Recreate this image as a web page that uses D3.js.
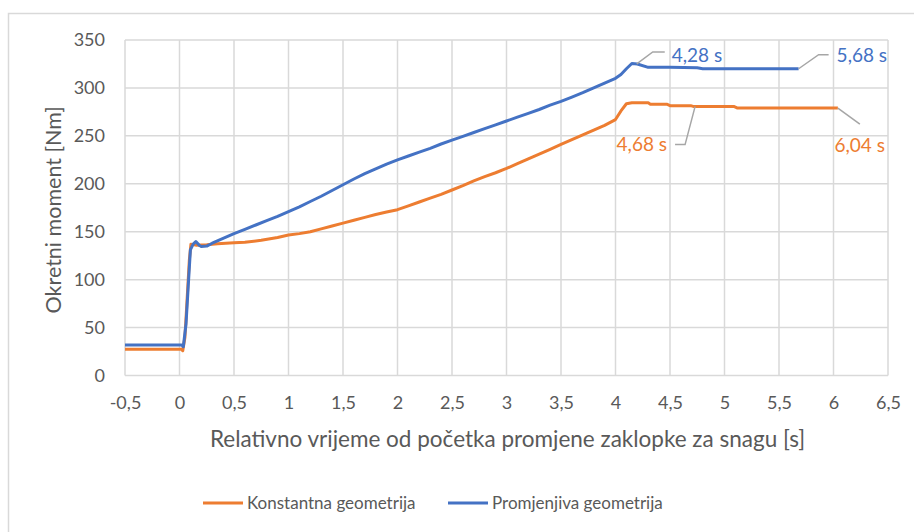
<!DOCTYPE html>
<html>
<head>
<meta charset="utf-8">
<script src="https://cdn.jsdelivr.net/npm/d3@7"></script>
<style>
  body { margin: 0; background: #fff; }
  text { font-family: Lato, "Open Sans", sans-serif; fill: #595959; }
</style>
</head>
<body>
<div class="chart"></div>
<script>
// Konstantna geometrija (orange)
const konstT = [-0.5, 0.02, 0.03, 0.05, 0.07, 0.09, 0.105, 0.15, 0.25, 0.35, 0.5, 0.6, 0.75, 0.9, 1.0, 1.1, 1.2, 1.3, 1.4, 1.5, 1.6, 1.7, 1.8, 1.9, 2.0, 2.1, 2.2, 2.3, 2.4, 2.5, 2.6, 2.7, 2.8, 2.9, 3.0, 3.1, 3.2, 3.3, 3.4, 3.5, 3.6, 3.7, 3.8, 3.9, 4.0, 4.05, 4.1, 4.15, 4.3, 4.32, 4.47, 4.5, 4.69, 4.72, 5.09, 5.12, 6.04]
const konstV = [27.4, 27.4, 25.8, 40, 80, 120, 137, 136, 136.5, 137.5, 138.5, 139, 141, 144, 146.5, 148, 150, 153, 156, 159, 162, 165, 168, 170.5, 173, 177, 181, 185, 189, 193.5, 198, 203, 207.5, 211.5, 216, 221, 226, 231, 236, 241, 246, 251, 256, 261, 267, 276, 283.5, 284.5, 284.5, 283, 283, 281.5, 281.5, 280.5, 280.5, 279, 279]

// Promjenjiva geometrija (blue)
const promT = [-0.5, 0.02, 0.035, 0.06, 0.08, 0.1, 0.125, 0.15, 0.18, 0.2, 0.25, 0.3, 0.4, 0.5, 0.6, 0.7, 0.8, 0.9, 1.0, 1.1, 1.2, 1.3, 1.4, 1.5, 1.6, 1.7, 1.8, 1.9, 2.0, 2.1, 2.2, 2.3, 2.4, 2.5, 2.6, 2.7, 2.8, 2.9, 3.0, 3.1, 3.2, 3.3, 3.4, 3.5, 3.6, 3.7, 3.8, 3.9, 4.0, 4.05, 4.1, 4.15, 4.2, 4.3, 4.5, 4.75, 4.8, 5.68]
const promV = [31.8, 31.8, 30, 54, 93, 131, 137, 139.7, 136, 134.5, 135, 138, 143, 148, 152.5, 157, 161.5, 166, 171, 176, 181.5, 187, 193, 199, 205, 210.5, 215.5, 220.5, 225, 229, 233, 237, 241.5, 245.5, 249.5, 253.5, 257.5, 261.5, 265.5, 269.5, 273.5, 277.5, 282, 286, 290.5, 295, 300, 305, 310, 314, 320, 325.5, 325, 321.5, 321.5, 321, 320, 320]

const xTicks = [-0.5, 0, 0.5, 1, 1.5, 2, 2.5, 3, 3.5, 4, 4.5, 5, 5.5, 6, 6.5]
const yTicks = [0, 50, 100, 150, 200, 250, 300, 350]

const seriesNames = ["Konstantna geometrija", "Promjenjiva geometrija"]
const colors = ["#ED7D31", "#4472C4"]

// data labels: time on the line where the leader starts, and the label text
const labelT = [4.195, 5.68, 4.73, 6.04]
const labelText = ["4,28 s", "5,68 s", "4,68 s", "6,04 s"]

const W = 914, H = 532
const margin = {top: 40, right: 26, bottom: 156.5, left: 125},
    width = W - margin.left - margin.right,
    height = H - margin.top - margin.bottom;

const root = d3.select(".chart")
    .append("svg")
        .attr("width", W)
        .attr("height", H)

// outer chart border
root.append("rect")
    .attr("x", 8.5).attr("y", 13.5)
    .attr("width", W + 20).attr("height", H + 20)
    .attr("fill", "none")
    .attr("stroke", "#D9D9D9")
    .attr("stroke-width", 1.5)

const svg = root.append("g")
    .attr("transform", "translate(" + margin.left + "," + margin.top + ")");

const x = d3.scaleLinear().domain([-0.5, 6.5]).range([0, width])
const y = d3.scaleLinear().domain([0, 350]).range([height, 0])

// grid
svg.append("g")
    .selectAll("line")
    .data(xTicks)
    .enter()
    .append("line")
        .attr("x1", d => x(d)).attr("x2", d => x(d))
        .attr("y1", 0).attr("y2", height)
        .attr("stroke", "#D9D9D9").attr("stroke-width", 1.5)

svg.append("g")
    .selectAll("line")
    .data(yTicks)
    .enter()
    .append("line")
        .attr("x1", 0).attr("x2", width)
        .attr("y1", d => y(d)).attr("y2", d => y(d))
        .attr("stroke", "#D9D9D9").attr("stroke-width", 1.5)

// axes (labels only, lines drawn by grid)
const fmt = d => String(d).replace(".", ",")

const xAxis = svg.append("g")
    .attr("transform", "translate(0," + height + ")")
    .call(d3.axisBottom(x).tickValues(xTicks).tickFormat(fmt).tickSize(0).tickPadding(21))
xAxis.select(".domain").remove()
xAxis.selectAll("text")
    .style("font-size", "18px")
    .style("font-family", "Lato, sans-serif")
    .attr("fill", "#595959")

const yAxis = svg.append("g")
    .call(d3.axisLeft(y).tickValues(yTicks).tickSize(0).tickPadding(20))
yAxis.select(".domain").remove()
yAxis.selectAll("text")
    .style("font-size", "18px")
    .style("font-family", "Lato, sans-serif")
    .attr("fill", "#595959")

// series
const line = d3.line()
    .x(d => x(d[0]))
    .y(d => y(d[1]))

const series = [
    d3.zip(konstT, konstV),
    d3.zip(promT, promV)
]

series.forEach((s, i) => {
    svg.append("path")
        .datum(s)
        .attr("fill", "none")
        .attr("stroke", colors[i])
        .attr("stroke-width", 3)
        .attr("stroke-linejoin", "round")
        .attr("d", line)
})

// value on a series at time t
function valueAt(ts, vs, t) {
    for (let i = 1; i < ts.length; i++) {
        if (t <= ts[i]) {
            const k = (t - ts[i - 1]) / (ts[i] - ts[i - 1])
            return vs[i - 1] + k * (vs[i] - vs[i - 1])
        }
    }
    return vs[vs.length - 1]
}

// data labels with leader lines (offsets relative to anchor point)
const labels = [
    {s: 1, dx1: 16, dy1: -12, dx2: 28, anchor: "start", tdx: 35, tdy: -9},
    {s: 1, dx1: 20, dy1: -14, dx2: 30, anchor: "start", tdx: 38, tdy: -13},
    {s: 0, dx1: -10, dy1: 38, dx2: -20, anchor: "end", tdx: -28, tdy: 38},
    {s: 0, dx1: 22, dy1: 16, dx2: 22, anchor: "end", tdx: 47, tdy: 37}
]

labels.forEach((l, i) => {
    const ts = l.s === 0 ? konstT : promT
    const vs = l.s === 0 ? konstV : promV
    const px = x(labelT[i]), py = y(valueAt(ts, vs, labelT[i]))
    svg.append("path")
        .attr("d", "M" + px + "," + py + "L" + (px + l.dx1) + "," + (py + l.dy1) + "L" + (px + l.dx2) + "," + (py + l.dy1))
        .attr("fill", "none")
        .attr("stroke", "#A6A6A6")
        .attr("stroke-width", 1.5)
    svg.append("text")
        .attr("x", px + l.tdx)
        .attr("y", py + l.tdy)
        .attr("dy", "0.35em")
        .attr("text-anchor", l.anchor)
        .style("font-size", "19px")
        .style("fill", colors[l.s])
        .text(labelText[i])
})

// axis titles
svg.append("text")
    .attr("text-anchor", "middle")
    .attr("x", width / 2 + 1)
    .attr("y", height + 71)
    .style("font-size", "22.5px")
    .text("Relativno vrijeme od početka promjene zaklopke za snagu [s]");

svg.append("text")
    .attr("text-anchor", "middle")
    .attr("transform", "translate(" + (-64) + "," + (height / 2 + 2) + ")rotate(-90)")
    .style("font-size", "21.5px")
    .text("Okretni moment [Nm]");

// legend
const legend = root.append("g")
    .attr("transform", "translate(203,503)")

const legendX = [0, 245]
seriesNames.forEach((name, i) => {
    const g = legend.append("g").attr("transform", "translate(" + legendX[i] + ",0)")
    g.append("line")
        .attr("x1", 0).attr("x2", 40)
        .attr("stroke", colors[i]).attr("stroke-width", 3)
    g.append("text")
        .attr("x", 44)
        .attr("dy", "0.35em")
        .style("font-size", "17px")
        .text(name)
})
</script>
</body>
</html>
